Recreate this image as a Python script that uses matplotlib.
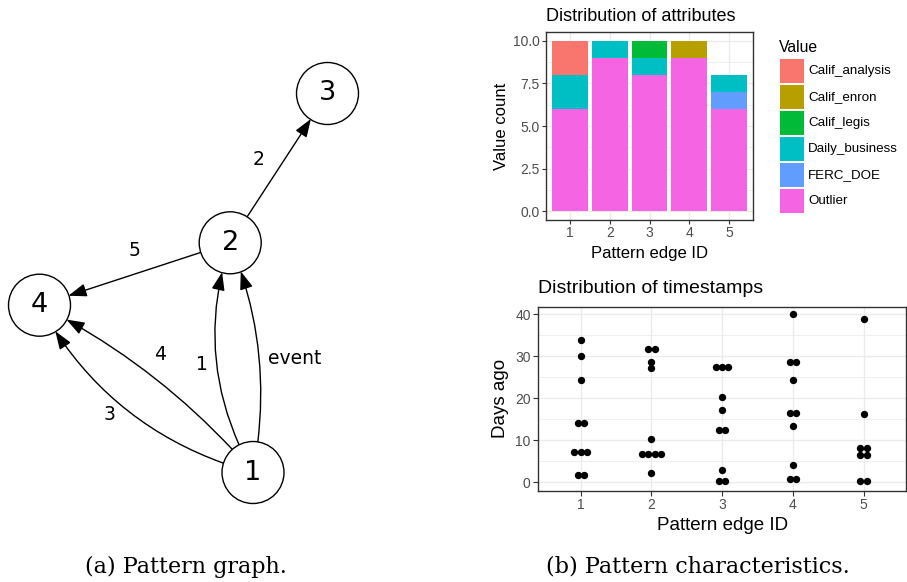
import matplotlib
matplotlib.use("Agg")
import matplotlib.pyplot as plt
from matplotlib.patches import Circle, FancyArrowPatch, Rectangle
from matplotlib.ticker import MultipleLocator
import numpy as np

# ------------------------------------------------------------------
# (a) pattern graph, layout in picture pixels
# ------------------------------------------------------------------
node_ids = ["1", "2", "3", "4"]
node_x = [253.0, 230.2, 327.5, 39.5]
node_y = [472.5, 242.8, 93.5, 305.2]
node_r = 31

edge_src = ["1", "1", "2", "1", "1", "2"]
edge_dst = ["2", "2", "3", "4", "4", "4"]
edge_rad = [-0.22, 0.15, 0.0, -0.21, 0.10, 0.0]
edge_text = ["1", "event", "2", "3", "4", "5"]
edge_text_x = [201.7, 295.0, 259.0, 109.3, 160.0, 135.0]
edge_text_y = [365.0, 358.5, 159.3, 415.0, 355.0, 250.0]

# ------------------------------------------------------------------
# (b) top: distribution of attributes
# ------------------------------------------------------------------
edge_ids = [1, 2, 3, 4, 5]
value_names = ["Calif_analysis", "Calif_enron", "Calif_legis",
               "Daily_business", "FERC_DOE", "Outlier"]
value_colors = ["#F8766D", "#B79F00", "#00BA38", "#00BFC4", "#619CFF", "#F564E3"]
calif_analysis = [2, 0, 0, 0, 0]
calif_enron = [0, 0, 0, 1, 0]
calif_legis = [0, 0, 1, 0, 0]
daily_business = [2, 1, 1, 0, 1]
ferc_doe = [0, 0, 0, 0, 1]
outlier = [6, 9, 8, 9, 6]

# ------------------------------------------------------------------
# (b) bottom: distribution of timestamps (days ago)
# ------------------------------------------------------------------
days_edge1 = [33.8, 30.1, 24.4, 14.2, 14.2, 7.1, 7.1, 7.1, 1.7, 1.7]
days_edge2 = [31.7, 31.7, 28.7, 27.3, 10.2, 6.7, 6.7, 6.7, 6.7, 2.3]
days_edge3 = [27.5, 27.5, 27.5, 20.4, 17.1, 12.5, 12.5, 3.0, 0.2, 0.2]
days_edge4 = [40.0, 28.7, 28.7, 24.4, 16.6, 16.6, 13.3, 4.1, 0.7, 0.7]
days_edge5 = [38.8, 16.2, 8.1, 8.1, 6.4, 6.4, 0.4, 0.4]

W, H = 907, 582
fig = plt.figure(figsize=(W / 100, H / 100), dpi=100)
fig.patch.set_facecolor("white")

SANS = "Liberation Sans"
TICK_COL = "#4D4D4D"
LINE_COL = "#333333"
GRID_COL = "#EBEBEB"


def box(left, top, right, bottom):
    return [left / W, 1 - bottom / H, (right - left) / W, (bottom - top) / H]


# ---- graph (and legend), drawn in pixel coordinates ----
ax_g = fig.add_axes([0, 0, 1, 1])
ax_g.set_xlim(0, W)
ax_g.set_ylim(H, 0)
ax_g.axis("off")

circles = {}
for nid, x, y in zip(node_ids, node_x, node_y):
    c = Circle((x, y), node_r, facecolor="white", edgecolor="black", lw=1.0, zorder=3)
    ax_g.add_patch(c)
    circles[nid] = (c, x, y)
    ax_g.text(x, y, nid, ha="center", va="center", fontsize=19.5,
              family="DejaVu Sans", zorder=4)

for s, d, rad in zip(edge_src, edge_dst, edge_rad):
    cs, xs, ys = circles[s]
    cd, xd, yd = circles[d]
    arr = FancyArrowPatch((xs, ys), (xd, yd), patchA=cs, patchB=cd,
                          shrinkA=0, shrinkB=0,
                          connectionstyle=f"arc3,rad={rad}",
                          arrowstyle="-|>,head_length=1.1,head_width=0.4",
                          mutation_scale=10, color="black", lw=1.0, zorder=2)
    ax_g.add_patch(arr)

for t, x, y in zip(edge_text, edge_text_x, edge_text_y):
    ax_g.text(x, y, t, ha="center", va="center", fontsize=13.5, family="DejaVu Sans")

fig.text(186 / W, 1 - 573 / H, "(a) Pattern graph.", ha="center", va="baseline",
         fontsize=16, family="DejaVu Serif")
fig.text(698 / W, 1 - 573 / H, "(b) Pattern characteristics.", ha="center",
         va="baseline", fontsize=16, family="DejaVu Serif")

# legend of the bar chart (ggplot style keys)
ax_g.text(779, 51.7, "Value", ha="left", va="baseline", fontsize=11.3, family=SANS)
for i, (name, col) in enumerate(zip(value_names, value_colors)):
    top = 59.3 + 26 * i
    ax_g.add_patch(Rectangle((780, top), 24, 23.3, facecolor=col, lw=0))
    ax_g.text(808.3, top + 11.9, name, ha="left", va="center", fontsize=9.6,
              family=SANS)


def style_axes(ax, tick_size, tick_len, tick_pad):
    for sp in ax.spines.values():
        sp.set_color(LINE_COL)
        sp.set_linewidth(1.0)
    ax.set_axisbelow(True)
    ax.grid(which="major", color=GRID_COL, lw=1.0)
    ax.grid(which="minor", axis="y", color=GRID_COL, lw=0.55)
    ax.tick_params(which="major", length=tick_len, width=0.8, color=LINE_COL,
                   labelsize=tick_size, labelcolor=TICK_COL, pad=tick_pad)
    ax.tick_params(which="minor", length=0)
    for lab in ax.get_xticklabels() + ax.get_yticklabels():
        lab.set_family(SANS)


# ---- stacked bars ----
ax_b = fig.add_axes(box(546, 32, 753, 220))
stack = [outlier, ferc_doe, daily_business, calif_legis, calif_enron, calif_analysis]
stack_cols = value_colors[::-1]
bottom = np.zeros(len(edge_ids))
for vals, col in zip(stack, stack_cols):
    ax_b.bar(edge_ids, vals, bottom=bottom, width=0.9, color=col, lw=0)
    bottom += np.array(vals)
ax_b.set_xlim(0.4, 5.6)
ax_b.set_ylim(-0.5, 10.5)
ax_b.set_xticks(edge_ids)
ax_b.yaxis.set_major_locator(MultipleLocator(2.5))
ax_b.yaxis.set_minor_locator(MultipleLocator(1.25))
ax_b.yaxis.set_major_formatter(matplotlib.ticker.FormatStrFormatter("%.1f"))
style_axes(ax_b, 10, 3, 1.5)
ax_b.set_title("Distribution of attributes", loc="left", fontsize=13,
               family=SANS, pad=8)
ax_b.set_xlabel("Pattern edge ID", fontsize=12, family=SANS, labelpad=4)
ax_b.set_ylabel("Value count", fontsize=12, family=SANS, labelpad=3)

# ---- dot plot ----
ax_d = fig.add_axes(box(538.3, 306.7, 906, 490.7))
dot_step = 0.089
for eid, days in zip(edge_ids, [days_edge1, days_edge2, days_edge3, days_edge4, days_edge5]):
    uniq, counts = np.unique(days, return_counts=True)
    xs, ys = [], []
    for v, k in zip(uniq, counts):
        for i in range(k):
            xs.append(eid + (i - (k - 1) / 2) * dot_step)
            ys.append(v)
    ax_d.scatter(xs, ys, s=28, color="black", lw=0, zorder=3)
ax_d.set_xlim(0.4, 5.6)
ax_d.set_ylim(-2.0, 41.8)
ax_d.set_xticks(edge_ids)
ax_d.yaxis.set_major_locator(MultipleLocator(10))
ax_d.yaxis.set_minor_locator(MultipleLocator(5))
style_axes(ax_d, 10, 3.5, 2)
ax_d.set_title("Distribution of timestamps", loc="left", fontsize=14,
               family=SANS, pad=10)
ax_d.set_xlabel("Pattern edge ID", fontsize=13.5, family=SANS, labelpad=3)
ax_d.set_ylabel("Days ago", fontsize=13.5, family=SANS, labelpad=4)

fig.savefig("out.png", dpi=100, facecolor="white")
